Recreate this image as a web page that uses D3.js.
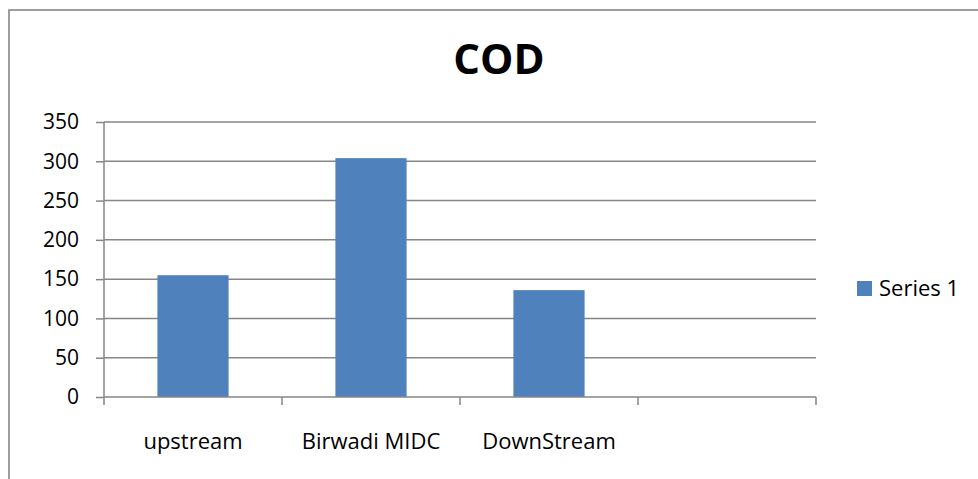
<!DOCTYPE html>
<html><head><meta charset="utf-8">
<script src="https://cdn.jsdelivr.net/npm/d3@7"></script>
<style>body{margin:0;background:#fff}svg{display:block}text{font-family:"Open Sans",sans-serif}</style>
</head><body><svg id="c" width="978" height="479"></svg>
<script>
const categories = ["upstream", "Birwadi MIDC", "DownStream", ""];
const values = [155, 304, 136, null];
const yTicks = [0, 50, 100, 150, 200, 250, 300, 350];
const seriesName = "Series 1";
const title = "COD";

const svg = d3.select("#c");
const grey = "#868686", blue = "#4f81bd";
const m = {l:104, r:816, t:122, b:397};

svg.append("rect").attr("x",9).attr("y",10).attr("width",1000).attr("height",500)
  .attr("fill","none").attr("stroke",grey).attr("stroke-width",1.6);

const x = d3.scaleBand().domain(categories.map((d,i)=>i)).range([m.l,m.r]).padding(0);
const y = d3.scaleLinear().domain([0,350]).range([m.b,m.t]);

// gridlines
svg.append("g").selectAll("line").data(yTicks.filter(d=>d>0)).join("line")
  .attr("x1",m.l).attr("x2",m.r).attr("y1",d=>y(d)).attr("y2",d=>y(d))
  .attr("stroke",grey).attr("stroke-width",1.5);

// bars
const bw = x.bandwidth()*0.4;
svg.append("g").selectAll("rect").data(values.map((v,i)=>({v,i})).filter(d=>d.v!=null)).join("rect")
  .attr("x",d=>x(d.i)+x.bandwidth()/2-bw/2).attr("width",bw)
  .attr("y",d=>y(d.v)).attr("height",d=>y(0)-y(d.v)).attr("fill",blue);

// y axis
const ya = svg.append("g").attr("transform",`translate(${m.l},0)`)
  .call(d3.axisLeft(y).tickValues(yTicks).tickSize(8).tickPadding(17).tickFormat(d3.format("d")));
ya.select(".domain").attr("stroke",grey).attr("stroke-width",1.5).attr("d",`M0,${m.t}V${m.b}`);
ya.selectAll(".tick line").attr("stroke",grey).attr("stroke-width",1.5);
ya.selectAll(".tick text").attr("font-size",21).attr("fill","#000").attr("font-family","Open Sans");

// x axis
const xa = svg.append("g").attr("transform",`translate(0,${m.b})`);
xa.append("line").attr("x1",m.l).attr("x2",m.r).attr("stroke",grey).attr("stroke-width",1.5);
const edges = categories.map((d,i)=>x(i)).concat([m.r]);
xa.selectAll("line.tk").data(edges).join("line").attr("class","tk")
  .attr("x1",d=>d).attr("x2",d=>d).attr("y1",0).attr("y2",8).attr("stroke",grey).attr("stroke-width",1.5);
xa.selectAll("text").data(categories).join("text")
  .attr("x",(d,i)=>x(i)+x.bandwidth()/2).attr("y",52).attr("text-anchor","middle")
  .attr("font-size",22).attr("fill","#000").text(d=>d);

// title
svg.append("text").attr("x",499).attr("y",74).attr("text-anchor","middle")
  .attr("font-size",42).attr("font-weight","bold").attr("fill","#000").text(title);

// legend
svg.append("rect").attr("x",857).attr("y",281).attr("width",15).attr("height",15).attr("fill",blue);
svg.append("text").attr("x",879).attr("y",296).attr("font-size",22).attr("fill","#000").text(seriesName);
</script></body></html>
